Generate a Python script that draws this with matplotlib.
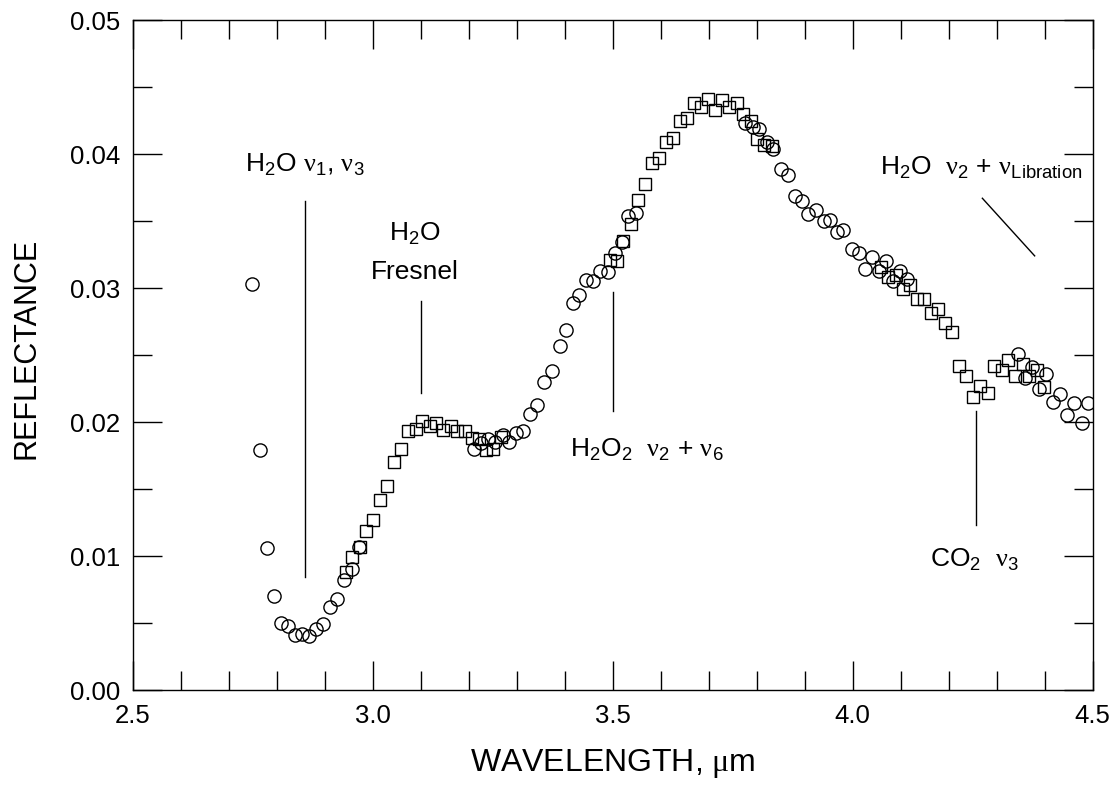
import matplotlib
matplotlib.use("Agg")
import matplotlib.pyplot as plt
from matplotlib.ticker import MultipleLocator, FormatStrFormatter

plt.rcParams["font.family"] = ["Liberation Sans", "DejaVu Sans"]
plt.rcParams["mathtext.fontset"] = "custom"
plt.rcParams["mathtext.rm"] = "Liberation Sans"
plt.rcParams["mathtext.sf"] = "Liberation Serif"
plt.rcParams["mathtext.default"] = "regular"

# Spectrum sampled with circles (wavelength in um, reflectance)
circle_wl = [2.749, 2.765, 2.779, 2.793, 2.808, 2.824, 2.838, 2.852, 2.867, 2.881,
             2.896, 2.911, 2.926, 2.940, 2.956, 2.970,
             3.211, 3.225, 3.240, 3.254, 3.270, 3.284, 3.298, 3.313, 3.327, 3.341,
             3.357, 3.373, 3.389, 3.402, 3.416, 3.430, 3.445, 3.459, 3.474, 3.489,
             3.505, 3.519, 3.532, 3.548,
             3.775, 3.791, 3.805, 3.821, 3.834, 3.850, 3.864, 3.880, 3.894, 3.907,
             3.923, 3.939, 3.953, 3.967, 3.980, 3.998, 4.012, 4.026, 4.041, 4.055,
             4.069, 4.083, 4.099, 4.114,
             4.344, 4.358, 4.373, 4.388, 4.403, 4.418, 4.432, 4.447, 4.461, 4.477, 4.491]
circle_refl = [0.0303, 0.0179, 0.0106, 0.0070, 0.0050, 0.00475, 0.0041, 0.0042, 0.0040, 0.00455,
               0.0049, 0.0062, 0.0068, 0.0082, 0.0090, 0.0107,
               0.0180, 0.0184, 0.0187, 0.0185, 0.0190, 0.0185, 0.0192, 0.0193, 0.0206, 0.0213,
               0.0230, 0.0238, 0.0257, 0.0269, 0.0289, 0.0295, 0.0306, 0.0305, 0.0313, 0.0312,
               0.0326, 0.0334, 0.0354, 0.0356,
               0.0423, 0.0420, 0.0419, 0.0409, 0.0404, 0.0389, 0.0384, 0.0369, 0.0365, 0.0355,
               0.0358, 0.0350, 0.0351, 0.0342, 0.0343, 0.0329, 0.0326, 0.0314, 0.0323, 0.0313,
               0.0320, 0.0305, 0.0313, 0.0307,
               0.0251, 0.0233, 0.0241, 0.0225, 0.0236, 0.0215, 0.0221, 0.0205, 0.0214, 0.0199, 0.0214]

# Spectrum sampled with squares
square_wl = [2.943, 2.956, 2.972, 2.986, 3.000, 3.015, 3.030, 3.044, 3.059, 3.074,
             3.089, 3.103, 3.118, 3.132, 3.147, 3.162, 3.176, 3.191, 3.206, 3.220,
             3.235, 3.251, 3.266,
             3.494, 3.508, 3.522, 3.537, 3.552, 3.567, 3.582, 3.596, 3.611, 3.625,
             3.640, 3.654, 3.669, 3.684, 3.699, 3.713, 3.728, 3.743, 3.758, 3.772,
             3.787, 3.801, 3.815, 3.831,
             4.058, 4.074, 4.090, 4.104, 4.119, 4.133, 4.149, 4.163, 4.177, 4.192,
             4.206, 4.222, 4.236, 4.251, 4.265, 4.281, 4.295, 4.311, 4.324, 4.338,
             4.354, 4.368, 4.384, 4.399]
square_refl = [0.0088, 0.0099, 0.0107, 0.0119, 0.0127, 0.0142, 0.0152, 0.0170, 0.0180, 0.0193,
               0.0195, 0.0201, 0.0197, 0.0199, 0.0194, 0.0197, 0.0193, 0.0193, 0.0188, 0.0187,
               0.0179, 0.0180, 0.0189,
               0.0321, 0.0320, 0.0335, 0.0348, 0.0366, 0.0378, 0.0393, 0.0397, 0.0409, 0.0412,
               0.0425, 0.0427, 0.0438, 0.0435, 0.0441, 0.0433, 0.0440, 0.0435, 0.0438, 0.0430,
               0.0425, 0.0411, 0.0407, 0.0406,
               0.0316, 0.0308, 0.0310, 0.0299, 0.0302, 0.0292, 0.0292, 0.0281, 0.0284, 0.0274,
               0.0267, 0.0242, 0.0234, 0.0219, 0.0227, 0.0222, 0.0242, 0.0239, 0.0246, 0.0234,
               0.0243, 0.0234, 0.0239, 0.0226]

# Band labels: text, anchor (x, y), horizontal alignment
NU = r"$\mathsf{\nu}$"
band_labels = [
    ("H$_2$O " + NU + "$_1$, " + NU + "$_3$", 2.7334, 0.03868, "left"),
    ("H$_2$O", 3.088, 0.03353, "center"),
    ("Fresnel", 3.087, 0.03065, "center"),
    ("H$_2$O$_2$  " + NU + "$_2$ + " + NU + "$_6$", 3.4108, 0.01737, "left"),
    ("H$_2$O  " + NU + "$_2$ + " + NU + "$_{Libration}$", 4.057, 0.03843, "left"),
    ("CO$_2$  " + NU + "$_3$", 4.161, 0.00918, "left"),
]
# Band marker lines: (x0, x1), (y0, y1)
band_lines = [
    ((2.859, 2.859), (0.00847, 0.0365)),
    ((3.100, 3.100), (0.0222, 0.0290)),
    ((3.500, 3.500), (0.0208, 0.0297)),
    ((4.257, 4.257), (0.0123, 0.02085)),
    ((4.270, 4.379), (0.0367, 0.0324)),
]

fig = plt.figure(figsize=(11.14, 7.98), dpi=100)
ax = fig.add_axes([0.1194, 0.1353, 0.8615, 0.8396])

ax.plot(circle_wl, circle_refl, linestyle="none", marker="o", markersize=9.5,
        markerfacecolor="none", markeredgecolor="black", markeredgewidth=1.0)
ax.plot(square_wl, square_refl, linestyle="none", marker="s", markersize=8,
        markerfacecolor="none", markeredgecolor="black", markeredgewidth=1.0)

for (xs, ys) in band_lines:
    ax.plot(xs, ys, color="black", linewidth=1.0)
for text, x, y, ha in band_labels:
    ax.text(x, y, text, fontsize=19, ha=ha, va="baseline")

ax.set_xlim(2.5, 4.5)
ax.set_ylim(0.0, 0.05)
ax.xaxis.set_major_locator(MultipleLocator(0.5))
ax.xaxis.set_minor_locator(MultipleLocator(0.1))
ax.yaxis.set_major_locator(MultipleLocator(0.01))
ax.yaxis.set_minor_locator(MultipleLocator(0.005))
ax.xaxis.set_major_formatter(FormatStrFormatter("%.1f"))
ax.yaxis.set_major_formatter(FormatStrFormatter("%.2f"))

ax.tick_params(which="both", direction="in", top=True, right=True, width=1.0,
               labelsize=18.5, colors="black")
ax.tick_params(which="major", length=21)
ax.tick_params(which="minor", length=13.5)
ax.tick_params(axis="x", which="major", pad=10)
ax.tick_params(axis="y", which="major", pad=9)
for s in ax.spines.values():
    s.set_linewidth(1.0)

ax.set_xlabel("WAVELENGTH, $\\mathsf{\\mu}$m", fontsize=23, va="baseline")
ax.xaxis.set_label_coords(0.5, -0.121)
ax.set_ylabel("REFLECTANCE", fontsize=22, va="center", ha="center")
ax.yaxis.set_label_coords(-0.111, 0.51)

fig.savefig("out.png", dpi=100)
